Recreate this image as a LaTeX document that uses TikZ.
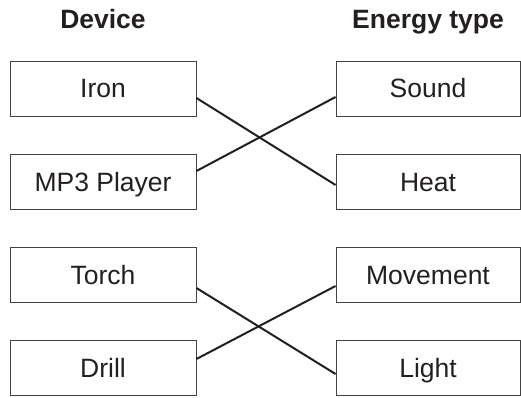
\documentclass[tikz,border=0pt]{standalone}
\usepackage{fontspec}
\setmainfont{Liberation Sans}
\usepackage{xcolor}
\usepackage{tikz}
\usetikzlibrary{positioning}

\definecolor{ink}{HTML}{231F20}

\begin{document}
\begin{tikzpicture}[
  x=1pt, y=-1pt,
  font=\fontsize{26.5}{30}\selectfont,
  item/.style={rectangle, draw=ink!85, line width=0.9pt, text=ink,
               minimum width=186pt, minimum height=55pt, inner sep=0pt,
               text height=19pt, text depth=0pt},
  head/.style={font=\fontsize{26.5}{30}\selectfont\bfseries, text=ink,
               text height=19pt, text depth=5.5pt, inner sep=0pt},
  link/.style={draw=ink, line width=2pt},
]
\useasboundingbox (0,0) rectangle (521,398);
% column headings
\node[head] (hdev) at (103,21.5) {Device};
\node[head] (hen)  at (428,21.5) {Energy type};
% devices
\node[item] (iron)  at (103,88.5)  {Iron};
\node[item] (mp3)   at (103,181.5) {MP3 Player};
\node[item] (torch) at (103,274.5) {Torch};
\node[item] (drill) at (103,367.5) {Drill};
% energy types
\node[item, minimum width=184pt] (sound) at (428,88.5)  {Sound};
\node[item, minimum width=184pt] (heat)  at (428,181.5) {Heat};
\node[item, minimum width=184pt] (move)  at (428,274.5) {Movement};
\node[item, minimum width=184pt] (light) at (428,367.5) {Light};
% matching lines
\draw[link] ([yshift=-9.5pt]iron.east)  -- ([yshift=-3.5pt]heat.west);
\draw[link] ([yshift=10.5pt]mp3.east)   -- ([yshift=-8.5pt]sound.west);
\draw[link] ([yshift=-13.5pt]torch.east) -- ([yshift=-6.5pt]light.west);
\draw[link] ([yshift=8.5pt]drill.east)  -- ([yshift=-11.5pt]move.west);
\end{tikzpicture}
\end{document}
